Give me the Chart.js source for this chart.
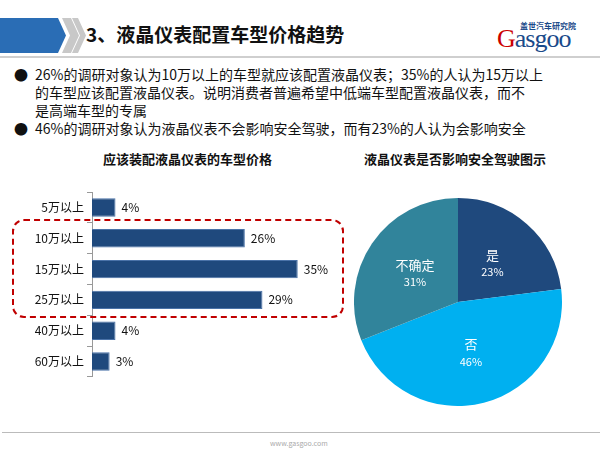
<!DOCTYPE html>
<html><head><meta charset="utf-8">
<script src="https://cdn.jsdelivr.net/npm/chart.js@4"></script>
<style>
body{margin:0;width:600px;height:450px;position:relative;background:#fff;font-family:"Noto Sans CJK SC","Noto Sans",sans-serif;overflow:hidden}
.abs{position:absolute}
</style></head><body>
<div class="abs" style="left:0;top:18px;width:58px;height:35px;background:#2a6db5"></div>
<svg class="abs" style="left:0;top:18px" width="90" height="36">
<polygon points="58,0 66,17.5 58,35 50,35 50,0" fill="#2a6db5"/>
<polygon points="62,0 71,0 79,17.5 71,35 62,35 70,17.5" fill="#c8c8c8"/>
<polygon points="72,0 78,0 86,17.5 78,35 72,35 80,17.5" fill="#c8c8c8"/>
</svg>
<div class="abs" style="left:86px;top:20px;font-size:19px;font-weight:bold;color:#111">3、液晶仪表配置车型价格趋势</div>
<div class="abs" style="left:0;top:56px;width:600px;height:2px;background:#cfcfcf"></div>
<div class="abs" style="left:520px;top:20px;font-size:8px;color:#1a4a8a;font-weight:bold">盖世汽车研究院</div>
<div class="abs" style="left:497px;top:24px;font-size:26px;color:#1a4a8a;font-family:'Liberation Serif';letter-spacing:-1px"><span style="color:#c00">G</span>asgoo</div>
<div class="abs" style="left:14px;top:65px;width:580px;font-size:14px;line-height:18px;color:#111;white-space:nowrap">
<div style="position:relative;padding-left:21px"><span style="position:absolute;left:0">●</span>26%的调研对象认为10万以上的车型就应该配置液晶仪表；35%的人认为15万以上<br>的车型应该配置液晶仪表。说明消费者普遍希望中低端车型配置液晶仪表，而不<br>是高端车型的专属</div>
<div style="position:relative;padding-left:21px"><span style="position:absolute;left:0">●</span>46%的调研对象认为液晶仪表不会影响安全驾驶，而有23%的人认为会影响安全</div>
</div>
<div class="abs" style="left:103px;top:149px;font-size:13px;font-weight:bold;color:#111">应该装配液晶仪表的车型价格</div>
<div class="abs" style="left:364px;top:149px;font-size:13px;font-weight:bold;color:#111">液晶仪表是否影响安全驾驶图示</div>
<div class="abs" style="left:0;top:182px;width:345px;height:205px"><canvas id="bar"></canvas></div>
<div class="abs" style="left:12px;top:219px;width:328px;height:95px;border:2px dashed #c00000;border-radius:12px"></div>
<div class="abs" style="left:354px;top:198px;width:208px;height:208px"><canvas id="pie"></canvas></div>
<div class="abs" style="left:2px;top:432px;width:598px;height:1px;background:#bbb"></div>
<div class="abs" style="left:270px;top:438px;font-size:7px;color:#aaa">www.gasgoo.com</div>
<script>
const barCategories=["5万以上","10万以上","15万以上","25万以上","40万以上","60万以上"];
const barValues=[4,26,35,29,4,3];
const pieCategories=["是","否","不确定"];
const pieValues=[23,46,31];
const pieColors=["#1f497d","#00b0f0","#31849b"];

const barLabels={id:"bl",afterDatasetsDraw(c){const ctx=c.ctx;const m=c.getDatasetMeta(0);ctx.save();ctx.font="12px 'Noto Sans CJK SC'";ctx.fillStyle="#111";ctx.textBaseline="middle";
m.data.forEach((b,i)=>ctx.fillText(barValues[i]+"%",b.x+6,b.y));ctx.restore();}};
new Chart(document.getElementById("bar"),{type:"bar",
data:{labels:barCategories,datasets:[{data:barValues,backgroundColor:"#1f497d",borderColor:"#4a72a8",borderWidth:1,categoryPercentage:1,barPercentage:0.6}]},
options:{indexAxis:"y",responsive:true,maintainAspectRatio:false,animation:false,layout:{padding:{right:12}},
plugins:{legend:{display:false},tooltip:{enabled:false}},
scales:{x:{display:false,min:0,max:41},
y:{afterFit(s){s.width=92},grid:{drawOnChartArea:false,color:"#999",tickLength:5,offset:true},border:{color:"#999"},ticks:{color:"#111",font:{size:12,family:"Noto Sans CJK SC"}}}}},
plugins:[barLabels]});

const pieLabels={id:"pl",afterDatasetsDraw(c){const ctx=c.ctx;const m=c.getDatasetMeta(0);ctx.save();ctx.fillStyle="#fff";ctx.textAlign="center";ctx.textBaseline="middle";
m.data.forEach((a,i)=>{const p=a.tooltipPosition();ctx.font="13px 'Noto Sans CJK SC'";ctx.fillText(pieCategories[i],p.x,p.y-8);ctx.font="11px 'Noto Sans CJK SC'";ctx.fillText(pieValues[i]+"%",p.x,p.y+9);});ctx.restore();}};
new Chart(document.getElementById("pie"),{type:"pie",
data:{labels:pieCategories,datasets:[{data:pieValues,backgroundColor:pieColors,borderWidth:0}]},
options:{responsive:true,maintainAspectRatio:false,animation:false,plugins:{legend:{display:false},tooltip:{enabled:false}}},
plugins:[pieLabels]});
</script>
</body></html>
